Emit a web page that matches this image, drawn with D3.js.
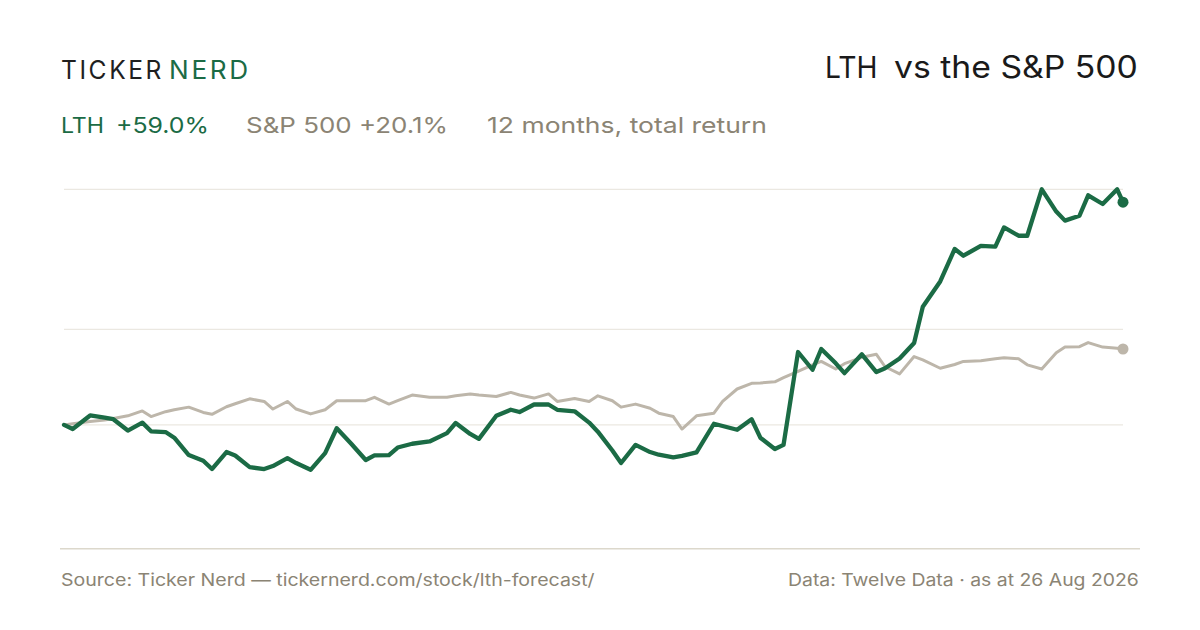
<!DOCTYPE html>
<html>
<head>
<meta charset="utf-8">
<script src="https://cdn.jsdelivr.net/npm/d3@7"></script>
<style>
  html, body { margin: 0; padding: 0; background: #fff; }
  svg { display: block; font-family: Inter, "Noto Sans", sans-serif; }
</style>
</head>
<body>
<svg id="chart" width="1200" height="630"></svg>
<script>
'use strict';

// sample dates, every third trading day plus the last day
var dates = [
  "2025-08-26","2025-08-29","2025-09-04","2025-09-09","2025-09-12","2025-09-17","2025-09-22","2025-09-25","2025-09-30",
  "2025-10-03","2025-10-08","2025-10-13","2025-10-16","2025-10-21","2025-10-24","2025-10-29",
  "2025-11-03","2025-11-06","2025-11-11","2025-11-14","2025-11-19","2025-11-24","2025-11-28",
  "2025-12-03","2025-12-08","2025-12-11","2025-12-16","2025-12-19","2025-12-24","2025-12-30",
  "2026-01-05","2026-01-08","2026-01-13","2026-01-16","2026-01-22","2026-01-27","2026-01-30",
  "2026-02-04","2026-02-09","2026-02-12","2026-02-18","2026-02-23","2026-02-26",
  "2026-03-03","2026-03-06","2026-03-11","2026-03-16","2026-03-19","2026-03-24","2026-03-27",
  "2026-04-01","2026-04-07","2026-04-10","2026-04-15","2026-04-20","2026-04-23","2026-04-28",
  "2026-05-01","2026-05-06","2026-05-11","2026-05-14","2026-05-19","2026-05-22","2026-05-28",
  "2026-06-02","2026-06-05","2026-06-10","2026-06-15","2026-06-18","2026-06-24","2026-06-29",
  "2026-07-02","2026-07-08","2026-07-13","2026-07-16","2026-07-21","2026-07-24","2026-07-29",
  "2026-08-03","2026-08-06","2026-08-11","2026-08-14","2026-08-19","2026-08-24","2026-08-26"
];

// cumulative total return, %
var lth = [
  0, -1.1, 2.5, 1.9, 1.5, -1.5, 0.6, -1.7, -1.9, -3.4,
  -8.0, -9.5, -11.7, -7.2, -8.1, -11.2, -11.7, -10.9, -8.8, -10.1,
  -11.9, -7.5, -0.9, -5.0, -9.3, -8.1, -8.0, -6.0, -5.0, -4.4,
  -2.2, 0.5, -2.4, -3.7, 2.4, 4.0, 3.4, 5.4, 5.4, 4.0,
  3.6, 0.6, -1.8, -6.8, -10.1, -5.3, -7.2, -7.9, -8.6, -8.2,
  -7.3, 0.3, -0.3, -1.3, 1.5, -3.4, -6.4, -5.3, 19.3, 14.6,
  20.1, 16.3, 13.7, 18.7, 14.0, 15.0, 17.6, 21.7, 31.3, 38.0,
  46.6, 44.8, 47.4, 47.2, 52.3, 50.1, 50.1, 62.4, 56.5, 54.1,
  55.4, 60.8, 58.5, 62.4, 59.0
];

var spx = [
  0, 0.3, 0.9, 1.3, 1.7, 2.4, 3.7, 2.2, 3.5, 4.0,
  4.7, 3.3, 2.8, 4.8, 5.6, 6.9, 6.2, 4.2, 6.2, 4.2,
  2.9, 4.0, 6.4, 6.4, 6.4, 7.3, 5.5, 6.4, 7.9, 7.3,
  7.3, 7.7, 8.2, 7.9, 7.5, 8.6, 7.9, 7.1, 8.2, 6.2,
  7.0, 6.2, 7.7, 6.4, 4.7, 5.5, 4.4, 3.1, 2.2, -1.1,
  2.4, 3.1, 6.2, 9.5, 11.0, 11.1, 11.4, 12.5, 14.2, 15.9,
  16.8, 14.8, 16.2, 17.9, 18.7, 15.4, 13.5, 18.1, 17.2, 15.0,
  16.0, 16.8, 17.0, 17.5, 17.8, 17.5, 15.9, 14.8, 19.1, 20.6,
  20.7, 21.8, 20.6, 20.3, 20.1
];

var gridValues = [0, 25.3, 62.4];
var yDomain = [-32.8, 62.4];

var GREEN = "#1b6b45", GREY_LINE = "#bdb6aa", GREY_TEXT = "#8b8474";

var svg = d3.select("#chart");
var parse = d3.timeParse("%Y-%m-%d");
var days = dates.map(parse);

var x = d3.scaleTime()
  .domain(d3.extent(days))
  .range([64, 1123]);

var y = d3.scaleLinear()
  .domain(yDomain)
  .range([548.7, 189.3]);

// grid
svg.append("g")
  .selectAll("line")
  .data(gridValues)
.enter().append("line")
  .attr("x1", 64).attr("x2", 1123)
  .attr("y1", function(d) { return y(d); })
  .attr("y2", function(d) { return y(d); })
  .attr("stroke", "#ebe8e1")
  .attr("stroke-width", 1.2);

// bottom rule
svg.append("line")
  .attr("x1", 60).attr("x2", 1140)
  .attr("y1", y(yDomain[0])).attr("y2", y(yDomain[0]))
  .attr("stroke", "#dcd8cc")
  .attr("stroke-width", 1.5);

var line = d3.line()
  .x(function(d, i) { return x(days[i]); })
  .y(function(d) { return y(d); });

svg.append("path")
  .datum(spx)
  .attr("d", line)
  .attr("fill", "none")
  .attr("stroke", GREY_LINE)
  .attr("stroke-width", 3)
  .attr("stroke-linejoin", "round")
  .attr("stroke-linecap", "round");

svg.append("path")
  .datum(lth)
  .attr("d", line)
  .attr("fill", "none")
  .attr("stroke", GREEN)
  .attr("stroke-width", 4.3)
  .attr("stroke-linejoin", "round")
  .attr("stroke-linecap", "round");

var last = days.length - 1;
svg.append("circle")
  .attr("cx", x(days[last])).attr("cy", y(spx[last]))
  .attr("r", 5.5).attr("fill", GREY_LINE);
svg.append("circle")
  .attr("cx", x(days[last])).attr("cy", y(lth[last]))
  .attr("r", 5.5).attr("fill", GREEN);

// text helper: the face is wider than Inter, so stretch each run to span x0..x1
var label = function(str, x0, x1, baseline, size, color, spacing) {
  var t = svg.append("text")
    .attr("x", 0).attr("y", 0)
    .attr("font-size", size)
    .attr("fill", color)
    .attr("letter-spacing", spacing || 0)
    .text(str);
  var w = t.node().getBBox().width;
  var k = (x1 - x0) / w;
  t.attr("transform", "translate(" + x0 + "," + baseline + ") scale(" + k + ",1)");
  return t;
};

// header
label("TICKER", 61, 164, 79, 25, "#1f1f1f", 2.6);
label("NERD", 169, 251, 79, 25, GREEN, 2.6);

label("LTH", 825, 877.5, 77.5, 30.5, "#1a1a1a");
label("vs the S&P 500", 894, 1138, 77.5, 30.5, "#1a1a1a");

label("LTH", 61, 104, 133, 22, GREEN);
label("+59.0%", 116, 209, 133, 22, GREEN);
label("S&P 500 +20.1%", 246, 448, 133, 22, GREY_TEXT);
label("12 months, total return", 487, 767, 133, 22, GREY_TEXT);

// footer
label("Source: Ticker Nerd \u2014 tickernerd.com/stock/lth-forecast/", 61, 595, 586, 17, GREY_TEXT);
label("Data: Twelve Data \u00b7 as at 26 Aug 2026", 788, 1139, 586, 17, GREY_TEXT);
</script>
</body>
</html>
